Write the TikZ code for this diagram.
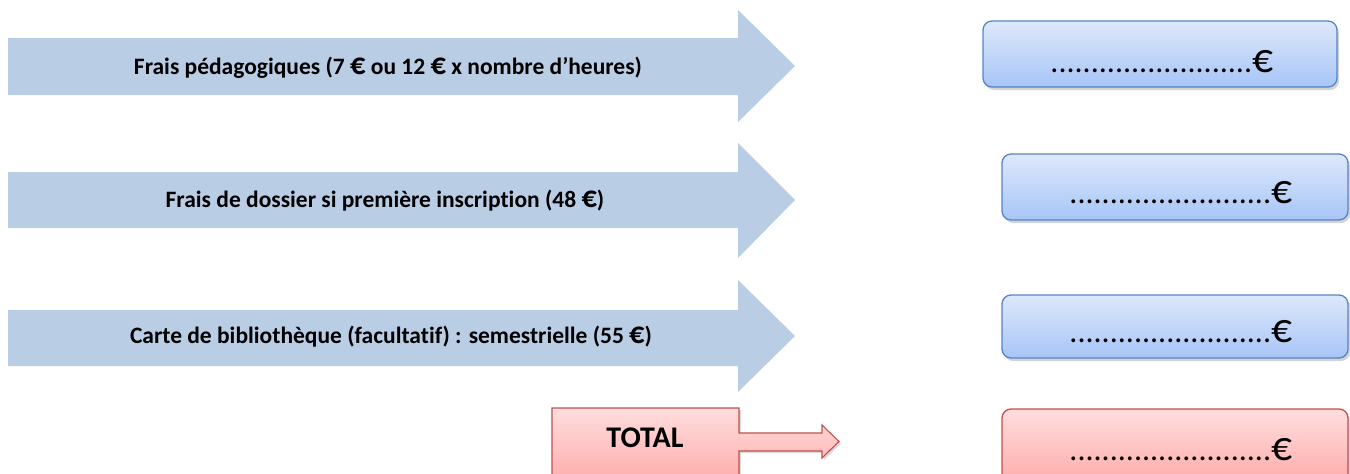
\documentclass[tikz,border=0pt]{standalone}
\usepackage{fontspec}
\setmainfont[Ligatures=NoCommon]{Carlito}
\usetikzlibrary{shadows,calc}
\definecolor{arrowblue}{HTML}{B9CDE5}
\definecolor{boxtop}{HTML}{DDE8FB}
\definecolor{boxbot}{HTML}{A7C5F7}
\definecolor{boxline}{HTML}{5585C4}
\definecolor{redtop}{HTML}{FFDEDE}
\definecolor{redbot}{HTML}{FFA6A6}
\definecolor{redline}{HTML}{C0504D}
\newcommand{\myeur}{\scalebox{1.3}{€}}
\tikzset{
  bigarrow/.style={fill=arrowblue, draw=none},
  arrowtext/.style={font=\bfseries\fontsize{23.5}{28}\selectfont, inner sep=0pt},
  amountbox/.style={rounded corners=9pt, draw=boxline, line width=1.3pt, top color=boxtop, bottom color=boxbot, drop shadow={opacity=0.35, shadow xshift=2pt, shadow yshift=-3pt}},
  totalbox/.style={rounded corners=9pt, draw=redline, line width=1.3pt, top color=redtop, bottom color=redbot, drop shadow={opacity=0.35, shadow xshift=2pt, shadow yshift=-3pt}},
  amounttext/.style={font=\fontsize{32}{36}\selectfont, inner sep=0pt, anchor=base},
  redarrow/.style={draw=redline, line width=1.1pt, top color=redtop, bottom color=redbot, drop shadow={opacity=0.3, shadow xshift=2pt, shadow yshift=-2pt}},
}
\begin{document}
\begin{tikzpicture}[x=1pt,y=-1pt]
\useasboundingbox (0,0) rectangle (1350,474);
\begin{scope}
\clip (0,0) rectangle (1350,474);
% blue arrows
\fill[bigarrow] (8,38) -- (738,38) -- (738,10) -- (795,66) -- (738,122) -- (738,95) -- (8,95) -- cycle;
\fill[bigarrow] (8,172) -- (738,172) -- (738,143) -- (795,200) -- (738,258) -- (738,228) -- (8,228) -- cycle;
\fill[bigarrow] (8,310) -- (738,310) -- (738,280) -- (795,336) -- (738,392) -- (738,366) -- (8,366) -- cycle;
\node[arrowtext] (t1) at (388,68) {Frais pédagogiques (7 \myeur{} ou 12 \myeur{} x nombre d’heures)};
\node[arrowtext] (t2) at (385,201) {Frais de dossier si première inscription (48 \myeur)};
\node[arrowtext] (t3) at (391,337) {Carte de bibliothèque (facultatif) : semestrielle (55 \myeur)};
% amount boxes
\path[amountbox] (983,21) rectangle (1337,87);
\path[amountbox] (1002,154) rectangle (1348,220);
\path[amountbox] (1002,295) rectangle (1348,358);
\path[totalbox] (1002,409) rectangle (1348,490);
\node[amounttext] (a1) at (1162,72) {.........................\myeur};
\node[amounttext] (a2) at (1181,203) {.........................\myeur};
\node[amounttext] (a3) at (1181,342) {.........................\myeur};
\node[amounttext] (a4) at (1181,460) {.........................\myeur};
% total arrow
\path[redarrow] (552,408) -- (739,408) -- (739,433) -- (822,433) -- (822,425) -- (839,441.5) -- (822,458) -- (822,451) -- (739,451) -- (739,490) -- (552,490) -- cycle;
\node[font=\bfseries\fontsize{30}{34}\selectfont, inner sep=0pt, anchor=base] (tot) at (645,447) {TOTAL};
\end{scope}
\end{tikzpicture}
\end{document}
